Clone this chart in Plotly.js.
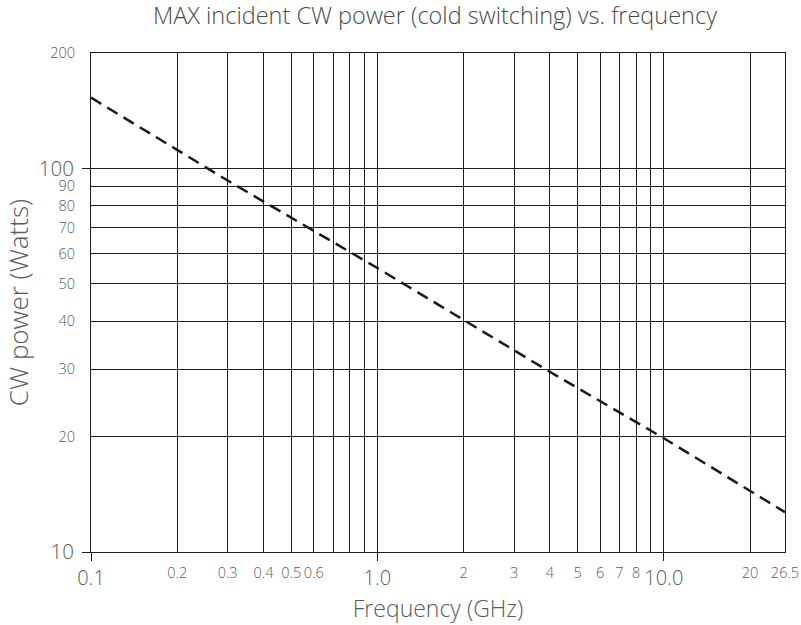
<!DOCTYPE html>
<html><head><meta charset="utf-8">
<script src="https://cdn.plot.ly/plotly-3.0.1.min.js"></script>
<style>body{margin:0;background:#fff}#c{width:801px;height:625px}</style>
</head><body><div id="c"></div>
<script>
// Data
const freqGHz = [0.1, 0.3, 1, 2, 4, 10, 26.5];
const cwWatts = [153, 93, 55, 40.3, 29.5, 19.8, 12.7];

// Tick labels
const xMinorVals = [0.2,0.3,0.4,0.5,0.6,0.7,0.8,0.9,2,3,4,5,6,7,8,9,20,26.5];
const xMinorText = ['0.2','0.3','0.4','0.5','0.6','','','','2','3','4','5','6','7','8','','20','26.5'];
const xMajorVals = [0.1, 1, 10];
const xMajorText = ['0.1','1.0','10.0'];
const yMinorVals = [20,30,40,50,60,70,80,90,200];
const yMinorText = ['20','30','40','50','60','70','80','90','200'];
const yMajorVals = [10, 100];
const yMajorText = ['10','100'];

const FONT = '"Open Sans", Roboto, sans-serif';
const TXT = '#5a5a5a';
const GRID = '#1e1e1e';
const xr = [-1, Math.log10(26.5)];
const yr = [1, Math.log10(200)];

const traces = [{
  x: freqGHz, y: cwWatts, type: 'scatter', mode: 'lines',
  line: {color: '#1a1a1a', width: 2.5, dash: '12px,7px'},
  hoverinfo: 'skip', showlegend: false
}, {
  x: [0.1], y: [10], xaxis: 'x2', yaxis: 'y2', mode: 'markers',
  marker: {opacity: 0}, showlegend: false, hoverinfo: 'skip'
}];

const layout = {
  width: 801, height: 625,
  margin: {l: 91, r: 16, t: 53, b: 73},
  paper_bgcolor: '#fff', plot_bgcolor: '#fff',
  font: {family: FONT, color: TXT, weight: 300},
  title: {text: 'MAX incident CW power (cold switching) vs. frequency',
    x: 0.543, xanchor: 'center', y: 0.975, yanchor: 'middle',
    font: {size: 23.5, color: '#4a4a4a', family: FONT, weight: 300}},
  xaxis: {type: 'log', range: xr, tickmode: 'array', tickvals: xMinorVals, ticktext: xMinorText,
    tickangle: 0, showgrid: true, gridcolor: GRID, gridwidth: 1, ticks: '', zeroline: false,
    showline: true, linecolor: GRID, linewidth: 1, mirror: true,
    tickfont: {size: 14.5, color: TXT, weight: 300}, ticklabelstandoff: 8,
    title: {text: 'Frequency (GHz)', font: {size: 23, color: TXT, weight: 300}, standoff: 19}},
  xaxis2: {type: 'log', range: xr, overlaying: 'x', side: 'bottom', tickmode: 'array',
    tickvals: xMajorVals, ticktext: xMajorText, tickangle: 0, showgrid: true, gridcolor: GRID, gridwidth: 1,
    ticks: 'outside', ticklen: 8, tickwidth: 1, tickcolor: GRID,
    tickfont: {size: 20, color: TXT, weight: 300}, ticklabelstandoff: 0, showline: false, zeroline: false},
  yaxis: {type: 'log', range: yr, tickmode: 'array', tickvals: yMinorVals, ticktext: yMinorText,
    showgrid: true, gridcolor: GRID, gridwidth: 1, ticks: '', zeroline: false,
    showline: true, linecolor: GRID, linewidth: 1, mirror: true,
    tickfont: {size: 14.5, color: TXT, weight: 300}, ticklabelstandoff: 12,
    title: {text: '\u2007\u2007\u2007CW power (Watts)', font: {size: 26, color: TXT, weight: 300}, standoff: 14}},
  yaxis2: {type: 'log', range: yr, overlaying: 'y', side: 'left', tickmode: 'array',
    tickvals: yMajorVals, ticktext: yMajorText, showgrid: true, gridcolor: GRID, gridwidth: 1,
    ticks: 'outside', ticklen: 8, tickwidth: 1, tickcolor: GRID,
    tickfont: {size: 20.5, color: TXT, weight: 300}, ticklabelstandoff: 4, showline: false, zeroline: false}
};

Plotly.newPlot('c', traces, layout, {displayModeBar: false, staticPlot: true});
</script>
</body></html>
